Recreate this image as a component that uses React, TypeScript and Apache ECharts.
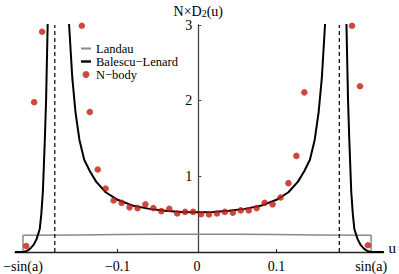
import React, { useEffect, useRef } from "react";
import * as echarts from "echarts";

const SIN_A = 0.219;
const DASH_U = 0.179;

const xTickValues = [-SIN_A, -0.1, 0, 0.1, SIN_A];
const xTickLabels = ["−sin(a)", "−0.1", "0", "0.1", "sin(a)"];

// Landau (gray)
const landauU = [-SIN_A, -SIN_A, -0.15, -0.1, -0.05, 0, 0.05, 0.1, 0.15, SIN_A, SIN_A];
const landauD = [0, 0.22, 0.226, 0.23, 0.233, 0.234, 0.233, 0.23, 0.226, 0.22, 0];

// Balescu-Lenard (black); "-" marks a break
const blU = [
  -0.229, -0.219, -0.214, -0.21, -0.206, -0.202, -0.198, -0.196, -0.194, -0.1915, -0.19, -0.188, -0.185,
  -0.175,
  -0.165, -0.161, -0.157, -0.153, -0.148, -0.142, -0.135, -0.127, -0.115, -0.1, -0.08, -0.06, -0.04, -0.02,
  0, 0.02, 0.04, 0.06, 0.08, 0.1, 0.115, 0.127, 0.135, 0.142, 0.148, 0.153, 0.157, 0.161, 0.165,
  0.175,
  0.185, 0.188, 0.19, 0.1915, 0.194, 0.196, 0.198, 0.202, 0.206, 0.21, 0.214, 0.219, 0.235,
];
const blD: (number | string)[] = [
  0, 0, 0.015, 0.045, 0.09, 0.17, 0.3, 0.5, 0.8, 1.5, 2.0, 3.0, 4.5,
  "-",
  4.2, 3.0, 2.3, 1.85, 1.48, 1.22, 1.07, 0.93, 0.79, 0.69, 0.61, 0.57, 0.545, 0.53,
  0.525, 0.53, 0.545, 0.57, 0.61, 0.69, 0.79, 0.93, 1.07, 1.22, 1.48, 1.85, 2.3, 3.0, 4.2,
  "-",
  4.5, 3.0, 2.0, 1.5, 0.8, 0.5, 0.3, 0.17, 0.09, 0.045, 0.015, 0, 0,
];

// N-body (red dots)
const nbU = [
  -0.215, -0.205, -0.195, -0.145, -0.135, -0.125, -0.115, -0.105, -0.095, -0.085, -0.075, -0.065, -0.055,
  -0.045, -0.035, -0.025, -0.015, -0.005, 0.005, 0.015, 0.025, 0.035, 0.045, 0.055, 0.065, 0.075, 0.085,
  0.095, 0.105, 0.115, 0.125, 0.135, 0.195, 0.205, 0.215,
];
const nbD = [
  0.08, 1.98, 2.91, 2.99, 1.85, 1.09, 0.84, 0.68, 0.65, 0.59, 0.58, 0.63, 0.58,
  0.54, 0.57, 0.51, 0.53, 0.53, 0.5, 0.495, 0.51, 0.53, 0.52, 0.55, 0.55, 0.58, 0.65,
  0.63, 0.72, 0.91, 1.27, 2.11, 2.99, 2.19, 0.09,
];

// dashed asymptotes
const dashU = [-DASH_U, -DASH_U, "-", DASH_U, DASH_U];
const dashD: (number | string)[] = [0, 3, "-", 0, 3];

const FONT = "'Liberation Serif', 'DejaVu Serif', serif";

export default function App() {
  const ref = useRef<HTMLDivElement>(null);
  useEffect(() => {
    if (!ref.current) return;
    const chart = echarts.init(ref.current, null, { renderer: "svg" });
    const zip = (a: any[], b: any[]) => a.map((u, i) => [u, b[i]]);
    chart.setOption({
      animation: false,
      textStyle: { fontFamily: FONT },
      grid: { left: 15, right: 13, top: 25, bottom: 22, containLabel: false },
      legend: {
        orient: "vertical",
        left: 81,
        top: 42,
        padding: 0,
        itemGap: 0,
        itemWidth: 10,
        itemHeight: 7,
        textStyle: { fontFamily: FONT, fontSize: 12.5, color: "#000", lineHeight: 12.5 },
        data: [
          { name: "Landau", icon: "path://M0,0h10v2h-10z", itemStyle: { color: "#8a8a8a" } },
          { name: "Balescu−Lenard", icon: "path://M0,0h10v2.4h-10z", itemStyle: { color: "#000" } },
          { name: "N−body", icon: "circle", itemStyle: { color: "#c21a0e" } },
        ],
      },
      xAxis: {
        type: "value",
        min: -0.2291,
        max: 0.2346,
        name: "u",
        nameLocation: "end",
        nameGap: 5,
        nameTextStyle: { fontFamily: FONT, fontSize: 15, color: "#000", verticalAlign: "bottom", padding: [0, 0, -3, 0] },
        axisLine: { show: true, lineStyle: { color: "#222", width: 1.3 } },
        axisTick: { show: true, inside: true, length: 3, customValues: [-0.1, 0.1], lineStyle: { color: "#222" } },
        axisLabel: {
          customValues: xTickValues,
          formatter: (v: number) => {
            const i = xTickValues.findIndex((t) => Math.abs(t - v) < 1e-6);
            return i >= 0 ? xTickLabels[i] : "";
          },
          fontFamily: FONT,
          fontSize: 14,
          color: "#000",
          margin: 7,
        },
        splitLine: { show: false },
      },
      yAxis: {
        type: "value",
        min: 0,
        max: 3,
        interval: 1,
        offset: -183.3,
        name: "{a|N×D}{b|2}{a|(u)}",
        nameLocation: "end",
        nameGap: 6,
        nameTextStyle: {
          rich: {
            a: { fontFamily: FONT, fontSize: 14, color: "#000", verticalAlign: "bottom", lineHeight: 18 },
            b: { fontFamily: FONT, fontSize: 10, color: "#000", verticalAlign: "bottom", lineHeight: 14 },
          },
        },
        axisLine: { show: true, onZero: false, lineStyle: { color: "#444", width: 1.3 } },
        axisTick: { show: true, inside: true, length: 3, lineStyle: { color: "#444" } },
        axisLabel: {
          showMinLabel: false,
          formatter: (v: number) => (v === 0 ? "" : String(v)),
          fontFamily: FONT,
          fontSize: 14,
          color: "#000",
          margin: 6,
        },
        splitLine: { show: false },
      },
      series: [
        {
          name: "Landau",
          type: "line",
          data: zip(landauU, landauD),
          symbol: "none",
          lineStyle: { color: "#8a8a8a", width: 1.5 },
          itemStyle: { color: "#8a8a8a" },
          z: 2,
        },
        {
          name: "dashed",
          type: "line",
          data: zip(dashU, dashD),
          symbol: "none",
          connectNulls: false,
          lineStyle: { color: "#000", width: 1.2, type: [4, 3] },
          z: 2,
        },
        {
          name: "Balescu−Lenard",
          type: "line",
          data: zip(blU, blD),
          symbol: "none",
          connectNulls: false,
          lineStyle: { color: "#000", width: 2 },
          itemStyle: { color: "#000" },
          clip: true,
          z: 3,
        },
        {
          name: "N−body",
          type: "scatter",
          data: zip(nbU, nbD),
          symbol: "circle",
          symbolSize: 6.5,
          itemStyle: { color: "#c21a0e" },
          z: 4,
        },
      ],
    });
    return () => chart.dispose();
  }, []);
  return (
    <div
      ref={ref}
      style={{ position: "fixed", left: 0, top: 0, width: 399, height: 274, background: "#fff" }}
    />
  );
}
